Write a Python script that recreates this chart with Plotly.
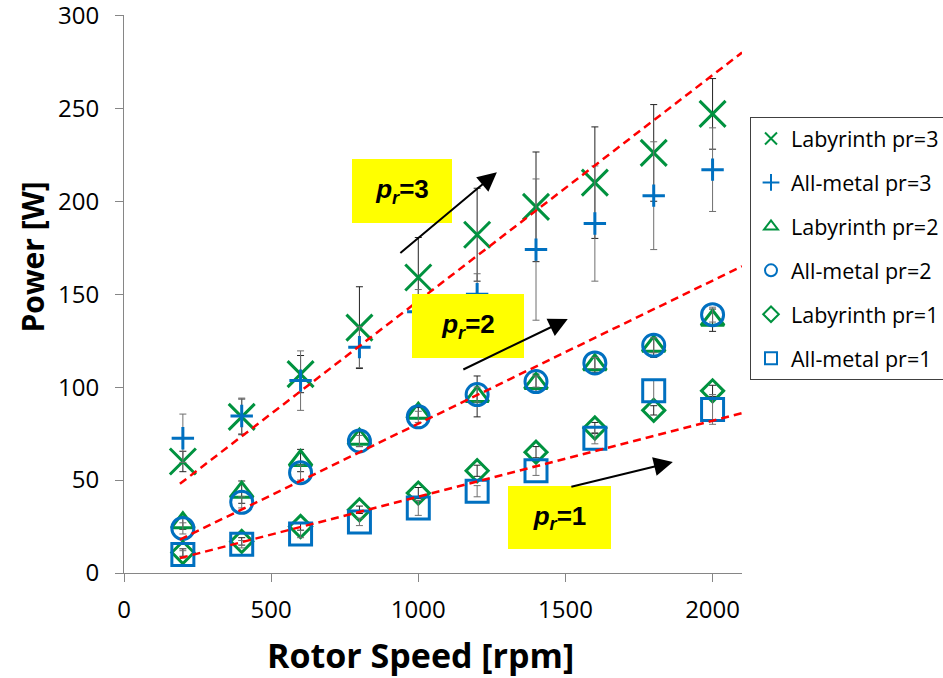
import plotly.graph_objects as go

# ---------------- data ----------------
rpm = [200, 400, 600, 800, 1000, 1200, 1400, 1600, 1800, 2000]

lab3 = [60, 84, 107, 132, 159, 182, 197, 210, 226, 247]
lab3_err = [5.5, 9.6, 10, 22, 21.5, 25, 29.5, 30, 26, 19]
metal3 = [72.5, 84.5, 103.5, 121.5, 140.5, 150, 174, 188, 203, 217]
metal3_err = [13, 9.6, 16, 11, 12, 11, 38, 31, 29, 22.5]

lab2 = [27, 43.5, 60.5, 72, 86, 95, 102, 112, 122, 136]
lab2_err = [3.5, 6, 6, 4, 3, 11, 5, 4, 6, 6]
metal2 = [24, 38, 54, 71, 84, 96, 103, 113, 122.5, 139]
metal2_err = [3, 3, 4, 3, 3, 4, 3, 3, 4, 4]

lab1 = [11, 17, 25, 34, 43, 55, 65, 78, 87.5, 98]
lab1_err = [2, 2, 2, 2, 3, 3, 3, 3, 2.5, 3]
metal1 = [10, 15.5, 21, 27.5, 35, 44, 55, 72.5, 98, 88]
metal1_err = [2, 2, 2, 2, 4, 3, 2.5, 3, 6, 8]

# linear trend lines (end points)
trend_x = [190, 2100]
trend3 = [48, 280]
trend2 = [18, 165]
trend1 = [8, 86]

x_ticks = [0, 500, 1000, 1500, 2000]
y_ticks = [0, 50, 100, 150, 200, 250, 300]

GREEN = "#00923F"
BLUE = "#0070C0"
FONT = "Open Sans"

series = [
    ("Labyrinth pr=3", lab3, lab3_err, "x-thin-open", 26, GREEN, "#222222"),
    ("All-metal pr=3", metal3, metal3_err, "cross-thin-open", 16, BLUE, "#6f6f6f"),
    ("Labyrinth pr=2", lab2, lab2_err, "triangle-up-open", 20, GREEN, "#222222"),
    ("All-metal pr=2", metal2, metal2_err, "circle-open", 22, BLUE, "#6f6f6f"),
    ("Labyrinth pr=1", lab1, lab1_err, "diamond-open", 17, GREEN, "#222222"),
    ("All-metal pr=1", metal1, metal1_err, "square-open", 22, BLUE, "#6f6f6f"),
]

fig = go.Figure()
for i, (name, ys, errs, sym, size, col, ecol) in enumerate(series):
    fig.add_trace(go.Scatter(
        x=rpm, y=ys, mode="markers", name=name, legendgroup=f"g{i}",
        marker=dict(symbol=sym, size=size, color=col, line=dict(color=col, width=3)),
        error_y=dict(type="data", array=errs, visible=True, color=ecol,
                     thickness=1, width=3.5),
    ))

for tr in (trend3, trend2, trend1):
    fig.add_trace(go.Scatter(
        x=trend_x, y=tr, mode="lines", showlegend=False, hoverinfo="skip",
        line=dict(color="#FF0000", width=2.5, dash="8px,5px"),
    ))

# yellow labels: (centre rpm, centre W, text, box w, box h)
labels = [
    (944, 205.4, "3", 100, 64),
    (1168, 132.8, "2", 112, 64),
    (1479, 29.8, "1", 103, 63),
]
annotations = []
for xc, yc, n, w, h in labels:
    annotations.append(dict(
        x=xc, y=yc, xref="x", yref="y", showarrow=False,
        text=f"<b><i>p</i></b><sub><b><i>r</i></b></sub><b>={n}</b>",
        font=dict(family="Liberation Sans", size=26, color="black"),
        bgcolor="#FFFF00", width=w, height=h, borderpad=0, borderwidth=0,
        xanchor="center", yanchor="middle", valign="middle", align="center",
    ))

arrows = [
    ((934, 171.5), (1267, 215.6)),
    ((1148, 109.1), (1508, 136.6)),
    ((1515, 46.2), (1865, 59.7)),
]
for (tx, ty), (hx, hy) in arrows:
    annotations.append(dict(
        x=hx, y=hy, ax=tx, ay=ty, xref="x", yref="y", axref="x", ayref="y",
        text="", showarrow=True, arrowhead=2, arrowsize=1.9, arrowwidth=2,
        arrowcolor="black", standoff=0, startstandoff=0,
    ))

# axis titles
annotations.append(dict(
    text="<b>Rotor Speed [rpm]</b>", x=(420 - 124) / 618, y=-0.147,
    xref="paper", yref="paper", showarrow=False, xanchor="center", yanchor="middle",
    font=dict(family=FONT, size=34, color="black"),
))
annotations.append(dict(
    text="<b>Power [W]</b>", x=(32 - 124) / 618, y=(573 - 257.5) / 558,
    xref="paper", yref="paper", showarrow=False, textangle=-90,
    xanchor="center", yanchor="middle",
    font=dict(family=FONT, size=30, color="black"),
))

fig.update_layout(
    width=943, height=678,
    margin=dict(l=124, r=201, t=15, b=105, autoexpand=False),
    paper_bgcolor="white", plot_bgcolor="white",
    font=dict(family=FONT, color="black"),
    showlegend=True,
    legend=dict(
        x=(750 - 124) / 618, y=(573 - 117) / 558, xanchor="left", yanchor="top",
        bordercolor="#404040", borderwidth=1, bgcolor="white",
        font=dict(family=FONT, size=21.5, color="black"),
        itemsizing="constant", tracegroupgap=13, traceorder="grouped",
    ),
    annotations=annotations,
    xaxis=dict(
        range=[0, 2100], tickmode="array", tickvals=x_ticks,
        ticktext=[str(v) for v in x_ticks],
        showgrid=False, zeroline=False, showline=True, linecolor="#868686",
        linewidth=1, ticks="outside", ticklen=8, tickcolor="#868686",
        ticklabelstandoff=7, ticklabeloverflow="allow",
        tickfont=dict(family=FONT, size=24, color="black"),
    ),
    yaxis=dict(
        range=[0, 300.2], tickmode="array", tickvals=y_ticks,
        ticktext=[str(v) for v in y_ticks],
        showgrid=False, zeroline=False, showline=True, linecolor="#868686",
        linewidth=1, ticks="outside", ticklen=8, tickcolor="#868686",
        ticklabelstandoff=11, ticklabeloverflow="allow",
        tickfont=dict(family=FONT, size=24, color="black"),
    ),
)

fig.write_html("out.html")
